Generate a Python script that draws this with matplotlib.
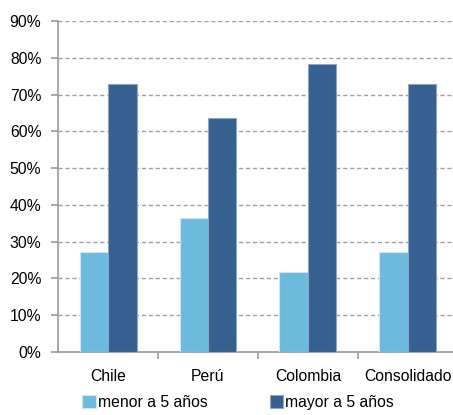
import matplotlib
matplotlib.use("Agg")
import matplotlib.pyplot as plt
import numpy as np

plt.rcParams["font.family"] = ["Liberation Sans", "DejaVu Sans"]

paises = ["Chile", "Perú", "Colombia", "Consolidado"]
menor_5 = [27.1, 36.4, 21.8, 27.2]
mayor_5 = [72.9, 63.6, 78.2, 72.8]
series = ["menor a 5 años", "mayor a 5 años"]

c_menor = "#6cbbdd"
c_mayor = "#35608f"
fs = 11.3

W, H = 453, 415
fig = plt.figure(figsize=(W / 100, H / 100), dpi=100)
# plot area in pixels: left 58, right 458, top 21, bottom 352
ax = fig.add_axes([58 / W, (H - 352) / H, 400 / W, (352 - 21) / H])

x = np.arange(len(paises))
bw = 0.285
ax.bar(x - bw / 2, menor_5, bw, color=c_menor, edgecolor="#cfe6f2",
       linewidth=0.8, label=series[0], zorder=3)
ax.bar(x + bw / 2, mayor_5, bw, color=c_mayor, edgecolor="#8fa6c2",
       linewidth=0.8, label=series[1], zorder=3)

ax.set_xlim(-0.5, 3.5)
ax.set_ylim(0, 90)
ax.set_yticks(np.arange(0, 91, 10))
ax.set_yticklabels([f"{v}%" for v in range(0, 91, 10)], fontsize=fs)
ax.yaxis.grid(True, linestyle=(0, (3, 2)), color="#a0a0a0", linewidth=1, zorder=0)

# category labels sit between the boundary ticks
ax.set_xticks(x)
ax.set_xticklabels(paises, fontsize=fs)
ax.tick_params(axis="x", length=0, pad=12)
ax.set_xticks(np.arange(0.5, 3.5, 1), minor=True)
ax.tick_params(axis="x", which="minor", length=5, color="#999999", width=1.2)
ax.tick_params(axis="y", length=5, color="#999999", width=1.2, pad=7)

for s in ["top", "right"]:
    ax.spines[s].set_visible(False)
for s in ["left", "bottom"]:
    ax.spines[s].set_color("#999999")
    ax.spines[s].set_linewidth(1.2)

fig.legend(loc="lower left", bbox_to_anchor=(76 / W, -0.003), ncol=2,
           frameon=False, fontsize=fs, handlelength=0.85, handleheight=0.85,
           handletextpad=0.15, columnspacing=3.95, borderaxespad=0)

fig.savefig("out.png", dpi=100)
